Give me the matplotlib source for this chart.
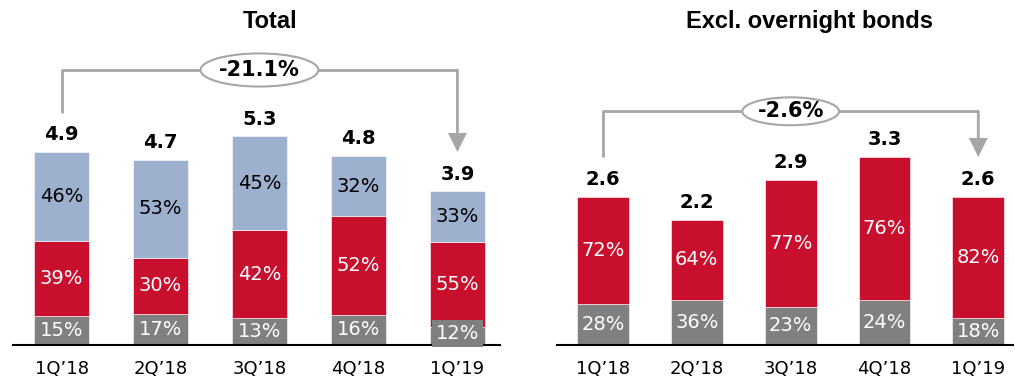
import matplotlib.pyplot as plt
from matplotlib.patches import Ellipse

quarters = ["1Q\u201918", "2Q\u201918", "3Q\u201918", "4Q\u201918", "1Q\u201919"]

# Total
total = [4.9, 4.7, 5.3, 4.8, 3.9]
total_gray = [15, 17, 13, 16, 12]
total_red = [39, 30, 42, 52, 55]
total_blue = [46, 53, 45, 32, 33]
total_change = "-21.1%"

# Excl. overnight bonds
excl = [2.6, 2.2, 2.9, 3.3, 2.6]
excl_gray = [28, 36, 23, 24, 18]
excl_red = [72, 64, 77, 76, 82]
excl_change = "-2.6%"

GRAY = "#808080"
RED = "#C8102E"
BLUE = "#9DB0CE"
LINE = "#A6A6A6"

plt.rcParams["font.family"] = "DejaVu Sans"


def stacked(ax, totals, parts, colors, txtcolors, width):
    x = range(len(totals))
    bottom = [0.0] * len(totals)
    for pcts, col, tcol in zip(parts, colors, txtcolors):
        h = [t * p / 100 for t, p in zip(totals, pcts)]
        ax.bar(x, h, width, bottom=bottom, color=col, edgecolor="white", linewidth=0.4)
        for i, (b, hh, p) in enumerate(zip(bottom, h, pcts)):
            ax.text(i, b + hh / 2, f"{p}%", ha="center", va="center",
                    color=tcol, fontsize=14)
        bottom = [b + hh for b, hh in zip(bottom, h)]
    for i, t in enumerate(totals):
        ax.annotate(f"{t:.1f}", (i, t), xytext=(0, 17), textcoords="offset pixels",
                    ha="center", va="center", fontsize=14, fontweight="bold")


def bracket(ax, totals, level, label, ell_w, ell_h, gap):
    n = len(totals) - 1
    start = totals[0] + gap
    ax.plot([0, 0, n], [start, level, level],
            color=LINE, lw=2, solid_capstyle="butt", zorder=2)
    ax.annotate("", xy=(n, totals[-1] + gap), xytext=(n, level),
                arrowprops=dict(arrowstyle="-|>,head_length=0.8,head_width=0.4",
                                color=LINE, lw=2, shrinkA=0, shrinkB=0,
                                joinstyle="miter", mutation_scale=13))
    ax.add_patch(Ellipse((n / 2, level), ell_w, ell_h, facecolor="white",
                         edgecolor=LINE, lw=1.5, zorder=3))
    ax.text(n / 2, level, label, ha="center", va="center", fontsize=15,
            fontweight="bold", zorder=4)


def style(ax, xmax, ymax):
    ax.set_xlim(-0.49, xmax)
    ax.set_ylim(0, ymax)
    for s in ["top", "right", "left"]:
        ax.spines[s].set_visible(False)
    ax.spines["bottom"].set_linewidth(1.5)
    ax.set_yticks([])
    ax.set_xticks(range(len(quarters)))
    ax.set_xticklabels(quarters, fontsize=13)
    ax.tick_params(axis="x", length=0, pad=11)


fig = plt.figure(figsize=(10.15, 3.79), dpi=100)
ax1 = fig.add_axes([13 / 1015, 34 / 379, 487 / 1015, 305 / 379])
ax2 = fig.add_axes([557 / 1015, 34 / 379, 456 / 1015, 305 / 379])

stacked(ax1, total, [total_gray, total_red, total_blue], [GRAY, RED, BLUE],
        ["white", "white", "black"], 0.556)
style(ax1, 4.43, 305 / 39.4)
bracket(ax1, total, max(total) + 1.68, total_change, 1.19, 0.84, 1.0)
# the last gray label sits in its own box
ax1.texts[4].set_bbox(dict(facecolor=GRAY, edgecolor="none", pad=3))
ax1.texts[4].set_y(ax1.texts[4].get_position()[1] + 0.05)

stacked(ax2, excl, [excl_gray, excl_red], [GRAY, RED], ["white", "white"], 0.553)
style(ax2, 4.37, 305 / 57.0)
bracket(ax2, excl, max(excl) + 0.8, excl_change, 1.03, 0.49, 0.7)

fig.text(270 / 1015, 1 - 28 / 379, "Total", ha="center", va="baseline",
         fontsize=17, fontweight="bold", family="Liberation Sans")
fig.text(809 / 1015, 1 - 28 / 379, "Excl. overnight bonds", ha="center",
         va="baseline", fontsize=17, fontweight="bold", family="Liberation Sans")

fig.savefig("out.png", dpi=100)
